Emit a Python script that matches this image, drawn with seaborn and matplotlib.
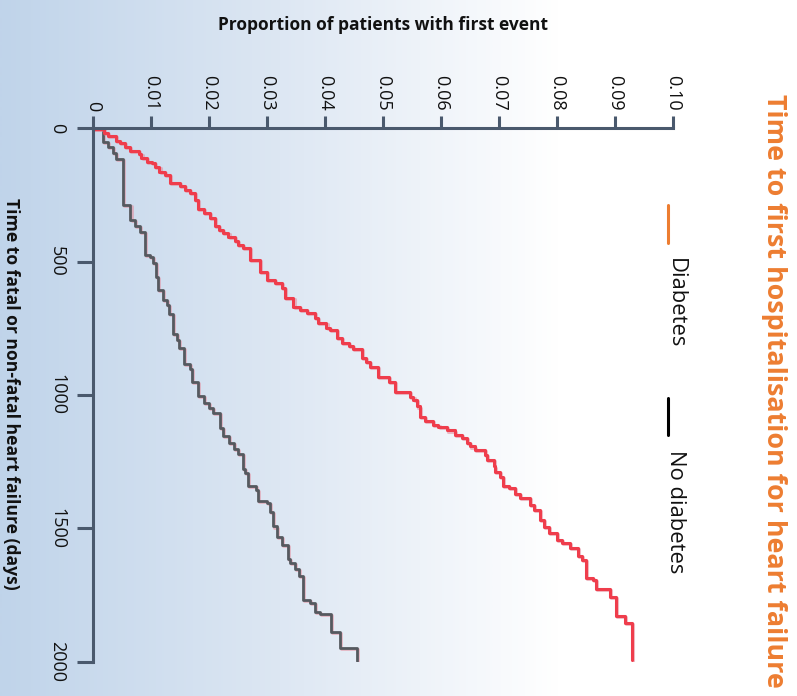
import numpy as np
import matplotlib
matplotlib.use("Agg")
import matplotlib.pyplot as plt
import matplotlib.patheffects as pe
from matplotlib.lines import Line2D
from matplotlib.colors import LinearSegmentedColormap
import seaborn as sns

# Cumulative proportion with a first heart-failure event, by event day
days_diabetes = [3, 16, 29, 46, 56, 69, 84, 97, 112, 125, 131, 144, 163, 175, 206, 216,
                 231, 241, 269, 304, 317, 337, 366, 381, 394, 406, 421, 437, 450, 494,
                 537, 569, 581, 600, 637, 669, 681, 693, 712, 731, 750, 756, 787, 806,
                 816, 828, 862, 875, 894, 931, 950, 987, 1006, 1018, 1043, 1081, 1096,
                 1112, 1121, 1133, 1150, 1162, 1181, 1193, 1206, 1224, 1243, 1268, 1287,
                 1306, 1341, 1349, 1371, 1387, 1412, 1431, 1468, 1495, 1518, 1543, 1555,
                 1574, 1603, 1618, 1687, 1693, 1728, 1756, 1830, 1855]
prop_diabetes = [0.0018, 0.0026, 0.0039, 0.0046, 0.0055, 0.0063, 0.0078, 0.0083, 0.0092,
                 0.0101, 0.0106, 0.0114, 0.0124, 0.0132, 0.0150, 0.0158, 0.0167, 0.0175,
                 0.0181, 0.0190, 0.0201, 0.0210, 0.0217, 0.0224, 0.0233, 0.0244, 0.0250,
                 0.0258, 0.0270, 0.0287, 0.0299, 0.0313, 0.0325, 0.0331, 0.0345, 0.0356,
                 0.0368, 0.0382, 0.0388, 0.0402, 0.0408, 0.0420, 0.0428, 0.0440, 0.0448,
                 0.0463, 0.0470, 0.0477, 0.0491, 0.0509, 0.0520, 0.0546, 0.0552, 0.0558,
                 0.0563, 0.0572, 0.0586, 0.0595, 0.0609, 0.0624, 0.0635, 0.0644, 0.0650,
                 0.0658, 0.0675, 0.0678, 0.0690, 0.0693, 0.0701, 0.0707, 0.0716, 0.0727,
                 0.0736, 0.0753, 0.0759, 0.0770, 0.0777, 0.0785, 0.0799, 0.0808, 0.0822,
                 0.0836, 0.0842, 0.0850, 0.0862, 0.0867, 0.0891, 0.0901, 0.0917, 0.0928]
followup_diabetes = 1993

days_no_diabetes = [3, 50, 71, 94, 116, 287, 344, 366, 388, 475, 483, 504, 558, 606, 644,
                    662, 696, 771, 793, 825, 885, 903, 950, 1003, 1031, 1049, 1068, 1124,
                    1153, 1181, 1203, 1222, 1278, 1293, 1341, 1356, 1396, 1406, 1437,
                    1493, 1533, 1562, 1615, 1630, 1653, 1678, 1768, 1780, 1812, 1820,
                    1890, 1947]
prop_no_diabetes = [0.0017, 0.0026, 0.0034, 0.0039, 0.0051, 0.0064, 0.0072, 0.0080,
                    0.0089, 0.0097, 0.0103, 0.0108, 0.0112, 0.0120, 0.0127, 0.0131,
                    0.0138, 0.0144, 0.0148, 0.0156, 0.0166, 0.0170, 0.0181, 0.0191,
                    0.0200, 0.0206, 0.0218, 0.0224, 0.0234, 0.0243, 0.0249, 0.0258,
                    0.0262, 0.0267, 0.0280, 0.0284, 0.0299, 0.0305, 0.0309, 0.0317,
                    0.0325, 0.0336, 0.0339, 0.0348, 0.0355, 0.0362, 0.0374, 0.0382,
                    0.0391, 0.0409, 0.0425, 0.0455]
followup_no_diabetes = 1999

prop_ticks = [0, 0.01, 0.02, 0.03, 0.04, 0.05, 0.06, 0.07, 0.08, 0.09, 0.10]
prop_tick_labels = ["0", "0.01", "0.02", "0.03", "0.04", "0.05", "0.06", "0.07",
                    "0.08", "0.09", "0.10"]
day_ticks = [0, 500, 1000, 1500, 2000]
day_tick_labels = ["0", "500", "1000", "1500", "2000"]

title_text = "Time to first hospitalisation for heart failure"
prop_label = "Proportion of patients with first event"
day_label = "Time to fatal or non-fatal heart failure (days)"
legend_labels = ["Diabetes", "No diabetes"]

RED = "#ef3d4c"
GREY = "#55595f"
ORANGE = "#ed7d31"
AXIS = "#4a596d"

sns.set_theme(style="white")
plt.rcParams["font.family"] = ["Open Sans", "DejaVu Sans"]

W, H = 797, 696
fig = plt.figure(figsize=(W / 100, H / 100), dpi=100)


def fx(px):
    return px / W


def fy(py):
    return 1 - py / H


# soft blue-to-white wash behind everything
bg = fig.add_axes([0, 0, 1, 1], zorder=0)
wash = np.clip(np.linspace(0, W / 560, W), 0, 1)[None, :]
cmap = LinearSegmentedColormap.from_list("wash", ["#c0d4ea", "#dde7f3", "#ffffff"])
bg.imshow(wash, aspect="auto", cmap=cmap, extent=[0, 1, 0, 1], vmin=0, vmax=1)
bg.set_axis_off()

ax = fig.add_axes([fx(93.3), fy(661.7), fx(673.3) - fx(93.3), fy(128.3) - fy(661.7)],
                  zorder=1)
ax.patch.set_alpha(0)


def km_path(days, props, end):
    d = [0] + list(days) + [end]
    p = [0] + list(props) + [props[-1]]
    return p, d


shadow = [pe.SimpleLineShadow(offset=(0.8, -0.8), shadow_color="#e48898", alpha=0.55),
          pe.Normal()]

p, d = km_path(days_no_diabetes, prop_no_diabetes, followup_no_diabetes)
sns.lineplot(x=p, y=d, ax=ax, sort=False, estimator=None, drawstyle="steps-pre",
             color=GREY, lw=2.0, path_effects=shadow)
p, d = km_path(days_diabetes, prop_diabetes, followup_diabetes)
sns.lineplot(x=p, y=d, ax=ax, sort=False, estimator=None, drawstyle="steps-pre",
             color=RED, lw=2.2, path_effects=shadow)

ax.set_xlim(0, 0.10)
ax.set_ylim(2000, 0)
ax.set_xlabel("")
ax.set_ylabel("")
ax.grid(False)

ax.xaxis.tick_top()
ax.set_xticks(prop_ticks)
ax.set_xticklabels(prop_tick_labels, rotation=-90)
ax.set_yticks(day_ticks)
ax.set_yticklabels(day_tick_labels, rotation=-90, va="center")

ax.tick_params(axis="x", which="major", top=True, bottom=False, labeltop=True,
               labelbottom=False, direction="out", length=8.5, width=2.2,
               color=AXIS, pad=4, labelsize=13, labelcolor="#111111")
ax.tick_params(axis="y", which="major", left=True, right=False, direction="out",
               length=11.5, width=2.2, color=AXIS, pad=8, labelsize=13,
               labelcolor="#111111")

for side in ("bottom", "right"):
    ax.spines[side].set_visible(False)
for side in ("top", "left"):
    ax.spines[side].set_visible(True)
    ax.spines[side].set_color(AXIS)
    ax.spines[side].set_linewidth(2.2)

fig.text(fx(383), fy(25), prop_label, ha="center", va="center",
         fontsize=12.5, fontweight="bold", color="#111111")
fig.text(fx(11), fy(394), day_label, rotation=-90, ha="center", va="center",
         fontsize=12.6, fontweight="bold", color="#111111")
fig.text(fx(774), fy(391), title_text, rotation=-90, ha="center", va="center",
         fontsize=19.4, fontweight="bold", color=ORANGE)

# legend, written along the same rotated direction as the title
fig.add_artist(Line2D([fx(668), fx(668)], [fy(205), fy(243)], color=ORANGE, lw=2.2))
fig.text(fx(675), fy(258), legend_labels[0], rotation=-90, ha="center", va="top",
         fontsize=15.8, color="#111111")
fig.add_artist(Line2D([fx(668), fx(668)], [fy(398), fy(435)], color="black", lw=2.2))
fig.text(fx(675), fy(450), legend_labels[1], rotation=-90, ha="center", va="top",
         fontsize=15.8, color="#111111")

fig.savefig("out.png", dpi=100)
